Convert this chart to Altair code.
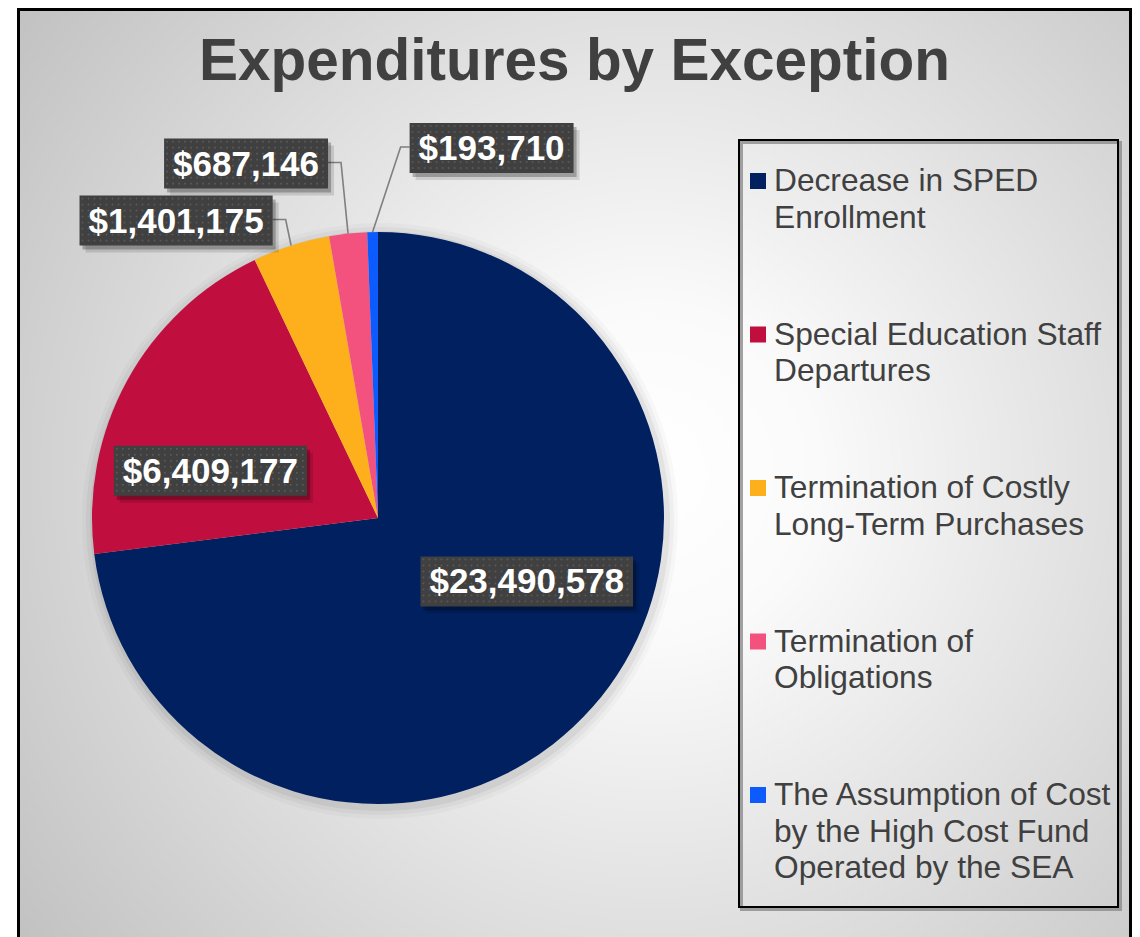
import math
import altair as alt
import pandas as pd

# ---------------- data ----------------
TITLE = "Expenditures by Exception"
CATEGORIES = [
    "Decrease in SPED Enrollment",
    "Special Education Staff Departures",
    "Termination of Costly Long-Term Purchases",
    "Termination of Obligations",
    "The Assumption of Cost by the High Cost Fund Operated by the SEA",
]
VALUES = [23490578, 6409177, 1401175, 687146, 193710]
LEGEND_LABELS = [
    "Decrease in SPED\nEnrollment",
    "Special Education Staff\nDepartures",
    "Termination of Costly\nLong-Term Purchases",
    "Termination of\nObligations",
    "The Assumption of Cost\nby the High Cost Fund\nOperated by the SEA",
]
COLORS = ["#002060", "#C00E3E", "#FDB01B", "#F2527D", "#0B5BFF"]

# ---------------- layout (chart pixel space) ----------------
W, H = 1124, 929
CX, CY, R = 370, 510, 286
FONT = "Liberation Sans, Arial, sans-serif"
LABEL_FONT = 35
LABEL_PAD_X, LABEL_H = 9, 50
# (kind, dx, dy) relative to slice anchor
LABEL_PLACE = [("in", 20, -50), ("in", -17, 35), ("out", -115, -25),
               ("out", -102, -70), ("out", 119, -84)]
LEG_X, LEG_Y0, LEG_STEP = 742, 183, 153.5
DOT_STEP = 6

total = sum(VALUES)
slices, boxes, leaders, dots = [], [], [], []
cum = 0
for i, (c, v) in enumerate(zip(CATEGORIES, VALUES)):
    mid = 2 * math.pi * (cum + v / 2) / total
    cum += v
    slices.append({"category": c, "value": v, "idx": i})
    kind, dx, dy = LABEL_PLACE[i]
    rr = 0.6 * R if kind == "in" else R
    ax = CX + rr * math.sin(mid)
    ay = CY - rr * math.cos(mid)
    lx, ly = ax + dx, ay + dy
    txt = f"${v:,}"
    tw = sum(0.278 if ch == "," else 0.556 for ch in txt) * LABEL_FONT
    bw = tw + 2 * LABEL_PAD_X
    b = {"category": c, "value": v, "lx": lx, "ly": ly + 1,
         "bx": lx - bw / 2, "bx2": lx + bw / 2,
         "by": ly - LABEL_H / 2, "by2": ly + LABEL_H / 2}
    boxes.append(b)
    # texture dots of the label box
    yy = b["by"] + 3
    while yy < b["by2"] - 1:
        xx = b["bx"] + 3
        while xx < b["bx2"] - 1:
            dots.append({"dx": xx, "dy": yy})
            xx += DOT_STEP
        yy += DOT_STEP
    if kind == "out":
        if dx < 0:
            ex = lx + bw / 2
            elx = ex + 13
        else:
            ex = lx - bw / 2
            elx = ex - 9
        pts = [(ax, ay), (elx, ly - 1), (ex, ly - 1)]
        for k, (px, py) in enumerate(pts):
            leaders.append({"category": c, "ord": k, "x": px, "y": py})

df = pd.DataFrame(slices)
bdf = pd.DataFrame(boxes)
ldf = pd.DataFrame(leaders)
ddf = pd.DataFrame(dots)
legdf = pd.DataFrame({
    "category": CATEGORIES,
    "label": LEGEND_LABELS,
    "ty": [LEG_Y0 + i * LEG_STEP for i in range(len(CATEGORIES))],
})
legdf["sy"] = legdf["ty"] - 18
legdf["sy2"] = legdf["ty"] - 2
legdf["sx"] = LEG_X
legdf["sx2"] = LEG_X + 16

color_scale = alt.Scale(domain=CATEGORIES, range=COLORS)
one = pd.DataFrame({"a": [0]})

# background with radial gradient + border
bg = alt.Chart(one).mark_rect(
    fill={"gradient": "radial",
          "x1": 0.57, "y1": 0.49, "r1": 0.0,
          "x2": 0.57, "y2": 0.49, "r2": 0.75,
          "stops": [{"offset": 0, "color": "#ffffff"},
                    {"offset": 0.2, "color": "#fafafa"},
                    {"offset": 1, "color": "#bdbdbd"}]},
    stroke="#000000", strokeWidth=3,
).encode(x=alt.value(10.5), x2=alt.value(1122.5), y=alt.value(1.5), y2=alt.value(950))

# soft pie shadow
shadows = [
    alt.Chart(one).mark_arc(theta=0, theta2=6.2832, outerRadius=R + r_add,
                            innerRadius=0, color="#000000", opacity=op)
    .encode(x=alt.value(CX + 2), y=alt.value(CY + 3))
    for r_add, op in [(12, 0.025), (8, 0.035), (4, 0.05)]
]

pie = alt.Chart(df).mark_arc(outerRadius=R, innerRadius=0).encode(
    theta=alt.Theta("value:Q", stack=True),
    color=alt.Color("category:N", scale=color_scale, legend=None),
    order=alt.Order("idx:Q"),
    x=alt.value(CX), y=alt.value(CY),
)

lines = alt.Chart(ldf).mark_line(color="#7f7f7f", strokeWidth=1.6).encode(
    x=alt.X("x:Q", scale=None), y=alt.Y("y:Q", scale=None),
    detail="category:N", order="ord:Q",
)

def box_layer(dx, dy, color, op):
    return alt.Chart(bdf).transform_calculate(
        sx=f"datum.bx + {dx}", sx2=f"datum.bx2 + {dx}",
        sy=f"datum.by + {dy}", sy2=f"datum.by2 + {dy}",
    ).mark_rect(color=color, opacity=op).encode(
        x=alt.X("sx:Q", scale=None), x2="sx2:Q",
        y=alt.Y("sy:Q", scale=None), y2="sy2:Q",
    )

box_shadow1 = box_layer(6, 7, "#000000", 0.12)
box_shadow2 = box_layer(3, 4, "#000000", 0.25)
box_main = box_layer(0, 0, "#404040", 1.0)

box_dots = alt.Chart(ddf).mark_square(size=3, color="#5a5a5a", opacity=1).encode(
    x=alt.X("dx:Q", scale=None), y=alt.Y("dy:Q", scale=None),
)

label_text = alt.Chart(bdf).mark_text(
    font=FONT, fontSize=LABEL_FONT, fontWeight="bold", color="#ffffff",
    align="center", baseline="middle",
).encode(
    x=alt.X("lx:Q", scale=None), y=alt.Y("ly:Q", scale=None),
    text=alt.Text("value:Q", format="$,.0f"),
)

title = alt.Chart(one).mark_text(
    text=TITLE, font=FONT, fontSize=58.5, fontWeight="bold", color="#404040",
    align="center", baseline="alphabetic",
).encode(x=alt.value(566.5), y=alt.value(72))

leg_shadow = alt.Chart(one).mark_rect(
    fillOpacity=0, stroke="#8c8c8c", strokeWidth=3, opacity=0.8,
).encode(x=alt.value(733.5), x2=alt.value(1112.5), y=alt.value(134.5), y2=alt.value(901.5))

leg_box = alt.Chart(one).mark_rect(
    fillOpacity=0, stroke="#000000", strokeWidth=2,
).encode(x=alt.value(731), x2=alt.value(1110), y=alt.value(132), y2=alt.value(899))

leg_sq = alt.Chart(legdf).mark_rect().encode(
    x=alt.X("sx:Q", scale=None), x2="sx2:Q",
    y=alt.Y("sy:Q", scale=None), y2="sy2:Q",
    color=alt.Color("category:N", scale=color_scale, legend=None),
)

leg_text = alt.Chart(legdf).mark_text(
    font=FONT, fontSize=31.7, color="#404040", align="left",
    baseline="alphabetic", lineBreak="\n", lineHeight=36.5,
).encode(
    x=alt.value(766), y=alt.Y("ty:Q", scale=None), text="label:N",
)

chart = alt.layer(
    bg, *shadows, pie, lines, box_shadow1, box_shadow2, box_main, box_dots,
    label_text, title, leg_shadow, leg_box, leg_sq, leg_text,
).properties(
    width=W, height=H, padding=0, autosize=alt.AutoSizeParams(type="none"),
    background="#ffffff",
).configure_view(stroke=None)

chart.save("out.html", embed_options={"renderer": "svg", "actions": False})
